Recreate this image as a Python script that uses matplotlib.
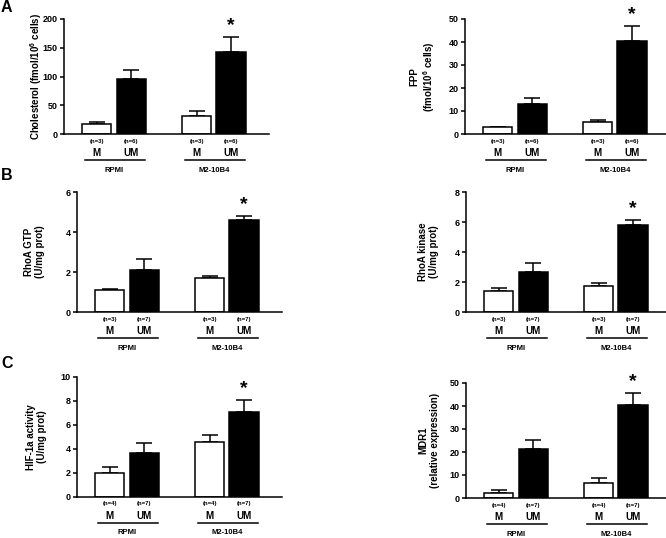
import matplotlib
matplotlib.use("Agg")
import matplotlib.pyplot as plt
from matplotlib import transforms

plt.rcParams["font.family"] = ["Liberation Sans", "DejaVu Sans"]
plt.rcParams["font.weight"] = "bold"
plt.rcParams["mathtext.fontset"] = "custom"
plt.rcParams["mathtext.rm"] = "Liberation Sans:bold"
plt.rcParams["mathtext.bf"] = "Liberation Sans:bold"

# ── Data ──────────────────────────────────────────────────────────────────────
MEDIA = ["RPMI", "M2-10B4"]
CELLS = ["M", "UM", "M", "UM"]
X_POS = [0, 1, 2.9, 3.9]
FILLS = ["white", "black", "white", "black"]

CHOL_MEAN = [17.4, 95.7, 31.9, 143.0]
CHOL_ERR  = [4.0, 15.3, 8.1, 26.0]
FPP_MEAN  = [2.9, 13.1, 5.2, 40.5]
FPP_ERR   = [0.3, 2.4, 0.8, 6.3]
GTP_MEAN  = [1.08, 2.12, 1.70, 4.58]
GTP_ERR   = [0.07, 0.53, 0.08, 0.20]
ROCK_MEAN = [1.38, 2.67, 1.76, 5.82]
ROCK_ERR  = [0.22, 0.62, 0.20, 0.34]
HIF_MEAN  = [2.01, 3.63, 4.55, 7.07]
HIF_ERR   = [0.48, 0.84, 0.59, 1.03]
MDR_MEAN  = [2.2, 21.5, 6.6, 40.5]
MDR_ERR   = [1.4, 3.6, 2.2, 5.3]

N_A = [3, 6, 3, 6]
N_B = [3, 7, 3, 7]
N_C = [4, 7, 4, 7]

W, H = 666, 538
fig = plt.figure(figsize=(W / 100, H / 100), dpi=100)

# (values, errors, n, ylabel, ymax, ystep, left px, top px, bottom px, label right px)
PANELS = [
    (CHOL_MEAN, CHOL_ERR, N_A, r"Cholesterol (fmol/10$^\mathbf{6}$ cells)", 200, 50, 64, 19, 134, 44),
    (FPP_MEAN, FPP_ERR, N_A, "FPP\n(fmol/10$^\\mathbf{6}$ cells)", 50, 10, 465, 19, 134, 437),
    (GTP_MEAN, GTP_ERR, N_B, "RhoA GTP\n(U/mg prot)", 6, 2, 77, 192, 312, 45),
    (ROCK_MEAN, ROCK_ERR, N_B, "RhoA kinase\n(U/mg prot)", 8, 2, 466, 192, 312, 439),
    (HIF_MEAN, HIF_ERR, N_C, "HIF-1a activity\n(U/mg prot)", 10, 2, 77, 377, 497, 47),
    (MDR_MEAN, MDR_ERR, N_C, "MDR1\n(relative expression)", 50, 10, 466, 383, 498, 440),
]
AX_W = 205
XLIM = (-0.95, 5.0)

for vals, errs, ns, ylabel, ymax, ystep, left, top, bottom, lab_x in PANELS:
    ax = fig.add_axes([left / W, 1 - bottom / H, AX_W / W, (bottom - top) / H])
    ax.bar(X_POS, vals, width=0.85, color=FILLS, edgecolor="black",
           linewidth=1.1, zorder=2)
    ax.errorbar(X_POS, vals, yerr=[[0] * 4, errs], fmt="none", ecolor="black",
                elinewidth=1.1, capsize=6, capthick=1.1, zorder=1)
    ax.set_xlim(*XLIM)
    ax.set_ylim(0, ymax)
    ax.set_yticks(range(0, ymax + 1, ystep))
    ax.set_xticks([])
    for s in ("top", "right"):
        ax.spines[s].set_visible(False)
    for s in ("left", "bottom"):
        ax.spines[s].set_linewidth(1.1)
    ax.tick_params(axis="y", length=3, width=1.1, pad=1.5, labelsize=6.5)
    ax.set_ylabel(ylabel, fontsize=7, fontweight="bold", linespacing=1.15)
    ax.yaxis.set_label_coords((lab_x - left) / AX_W, 0.5)

    # significance star over the M2-10B4 UM bar
    ax.annotate("*", xy=(X_POS[3], vals[3] + errs[3]), xytext=(0, 3),
                textcoords="offset pixels", ha="center", va="bottom",
                fontsize=14, fontweight="bold", annotation_clip=False)

    # group labels below the axis
    for x, n, c in zip(X_POS, ns, CELLS):
        ax.annotate(f"(n={n})", xy=(x, 0), xycoords=("data", "axes fraction"),
                    xytext=(0, -7), textcoords="offset pixels", ha="center",
                    va="center", fontsize=4.3, annotation_clip=False)
        ax.annotate(c, xy=(x, 0), xycoords=("data", "axes fraction"),
                    xytext=(0, -19), textcoords="offset pixels", ha="center",
                    va="center", fontsize=7, annotation_clip=False)
    line_tr = transforms.offset_copy(ax.get_xaxis_transform(), fig=fig,
                                     y=-26, units="dots")
    for g, name in enumerate(MEDIA):
        x0, x1 = X_POS[2 * g], X_POS[2 * g + 1]
        ax.plot([x0 - 0.35, x1 + 0.4], [0, 0], color="black", lw=1.1,
                transform=line_tr, clip_on=False)
        ax.annotate(name, xy=((x0 + x1) / 2, 0), xycoords=("data", "axes fraction"),
                    xytext=(0, -36), textcoords="offset pixels", ha="center",
                    va="center", fontsize=5.5, annotation_clip=False)

for letter, ypx in [("A", 8), ("B", 176), ("C", 363)]:
    fig.text(1 / W, 1 - ypx / H, letter, fontsize=11.5, fontweight="bold",
             ha="left", va="center")

fig.savefig("out.png", dpi=100)
